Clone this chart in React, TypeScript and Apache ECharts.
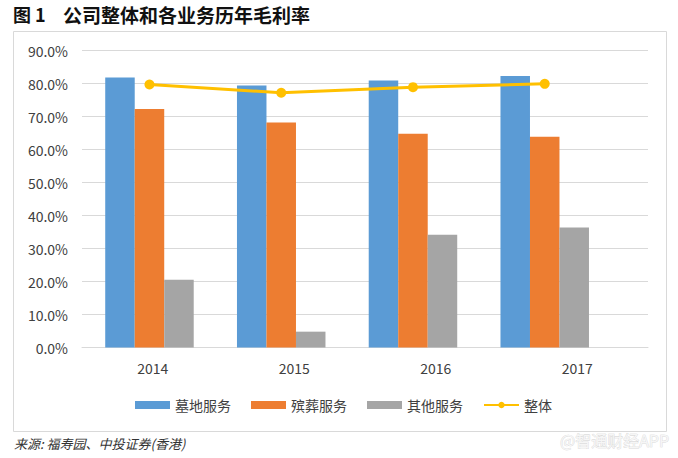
import React, { useEffect, useRef } from "react";
import * as echarts from "echarts";

const years = ["2014", "2015", "2016", "2017"];
const cemetery = [81.8, 79.4, 80.9, 82.3];
const funeral = [72.3, 68.2, 64.8, 63.9];
const other = [20.5, 4.8, 34.2, 36.4];
const overall = [79.7, 77.2, 78.9, 79.9];
const seriesNames = ["墓地服务", "殡葬服务", "其他服务", "整体"];

const FONT = "'Noto Sans CJK SC', 'Noto Sans', sans-serif";

export default function App() {
  const ref = useRef<HTMLDivElement>(null);
  useEffect(() => {
    if (!ref.current) return;
    const chart = echarts.init(ref.current, undefined, { renderer: "svg" });
    chart.setOption({
      animation: false,
      backgroundColor: "#ffffff",
      textStyle: { fontFamily: FONT },
      grid: [
        { left: 82, top: 50.5, width: 566, height: 297 },
        { left: 83.6, top: 50.5, width: 527, height: 297 },
      ],
      xAxis: [
        {
          type: "category",
          gridIndex: 0,
          data: years,
          axisLine: { lineStyle: { color: "#d9d9d9" } },
          axisTick: { show: false },
          axisLabel: { color: "#404040", fontSize: 14, margin: 13, fontFamily: FONT },
        },
        {
          type: "category",
          gridIndex: 1,
          data: years,
          show: false,
        },
      ],
      yAxis: [
        {
          type: "value",
          gridIndex: 0,
          min: 0,
          max: 90,
          interval: 10,
          axisLine: { show: false },
          axisTick: { show: false },
          splitLine: { lineStyle: { color: "#d9d9d9", width: 1 } },
          axisLabel: {
            color: "#404040",
            fontSize: 14,
            margin: 14,
            fontFamily: FONT,
            formatter: (v: number) => v.toFixed(1) + "%",
          },
        },
        {
          type: "value",
          gridIndex: 1,
          min: 0,
          max: 90,
          interval: 10,
          show: false,
        },
      ],
      legend: {
        left: 135,
        top: 398,
        padding: 0,
        itemGap: 20,
        itemWidth: 35,
        itemHeight: 8,
        textStyle: { color: "#404040", fontSize: 14, fontFamily: FONT },
        data: [
          { name: seriesNames[0], icon: "rect" },
          { name: seriesNames[1], icon: "rect" },
          { name: seriesNames[2], icon: "rect" },
          { name: seriesNames[3] },
        ],
      },
      series: [
        {
          name: seriesNames[0],
          type: "bar",
          xAxisIndex: 1,
          yAxisIndex: 1,
          data: cemetery,
          barWidth: 29.5,
          barGap: "0%",
          itemStyle: { color: "#5B9BD5" },
        },
        {
          name: seriesNames[1],
          type: "bar",
          xAxisIndex: 1,
          yAxisIndex: 1,
          data: funeral,
          barWidth: 29.5,
          barGap: "0%",
          itemStyle: { color: "#ED7D31" },
        },
        {
          name: seriesNames[2],
          type: "bar",
          xAxisIndex: 1,
          yAxisIndex: 1,
          data: other,
          barWidth: 29.5,
          barGap: "0%",
          itemStyle: { color: "#A5A5A5" },
        },
        {
          name: seriesNames[3],
          type: "line",
          xAxisIndex: 1,
          yAxisIndex: 1,
          data: overall,
          symbol: "circle",
          symbolSize: 10,
          lineStyle: { color: "#FFC000", width: 3 },
          itemStyle: { color: "#FFC000" },
          z: 5,
        },
      ],
      graphic: [
        {
          type: "text",
          x: 13,
          y: 14,
          style: {
            text: "图 1",
            fontSize: 18,
            fontWeight: "bold",
            fontFamily: FONT,
            fill: "#111",
            verticalAlign: "middle",
          },
        },
        {
          type: "text",
          x: 63,
          y: 14,
          style: {
            text: "公司整体和各业务历年毛利率",
            fontSize: 19,
            fontWeight: "bold",
            fontFamily: FONT,
            fill: "#111",
            verticalAlign: "middle",
          },
        },
        {
          type: "rect",
          shape: { x: 13.5, y: 31.5, width: 653, height: 400 },
          style: { fill: "none", stroke: "#d9d9d9", lineWidth: 1 },
          silent: true,
        },
        {
          type: "text",
          x: 14,
          y: 443,
          style: {
            text: "来源: 福寿园、中投证券(香港)",
            fontSize: 13,
            fontStyle: "italic",
            fontFamily: FONT,
            fill: "#333",
            verticalAlign: "middle",
          },
        },
        {
          type: "text",
          x: 560,
          y: 440,
          style: {
            text: "@智通财经APP",
            fontSize: 16,
            fontFamily: FONT,
            fill: "#f6f6f6",
            stroke: "#cfcfcf",
            lineWidth: 0.6,
            verticalAlign: "middle",
          },
          z: 10,
        },
      ],
    });
    return () => chart.dispose();
  }, []);
  return (
    <div
      ref={ref}
      style={{ position: "fixed", left: 0, top: 0, width: 678, height: 458 }}
    />
  );
}
